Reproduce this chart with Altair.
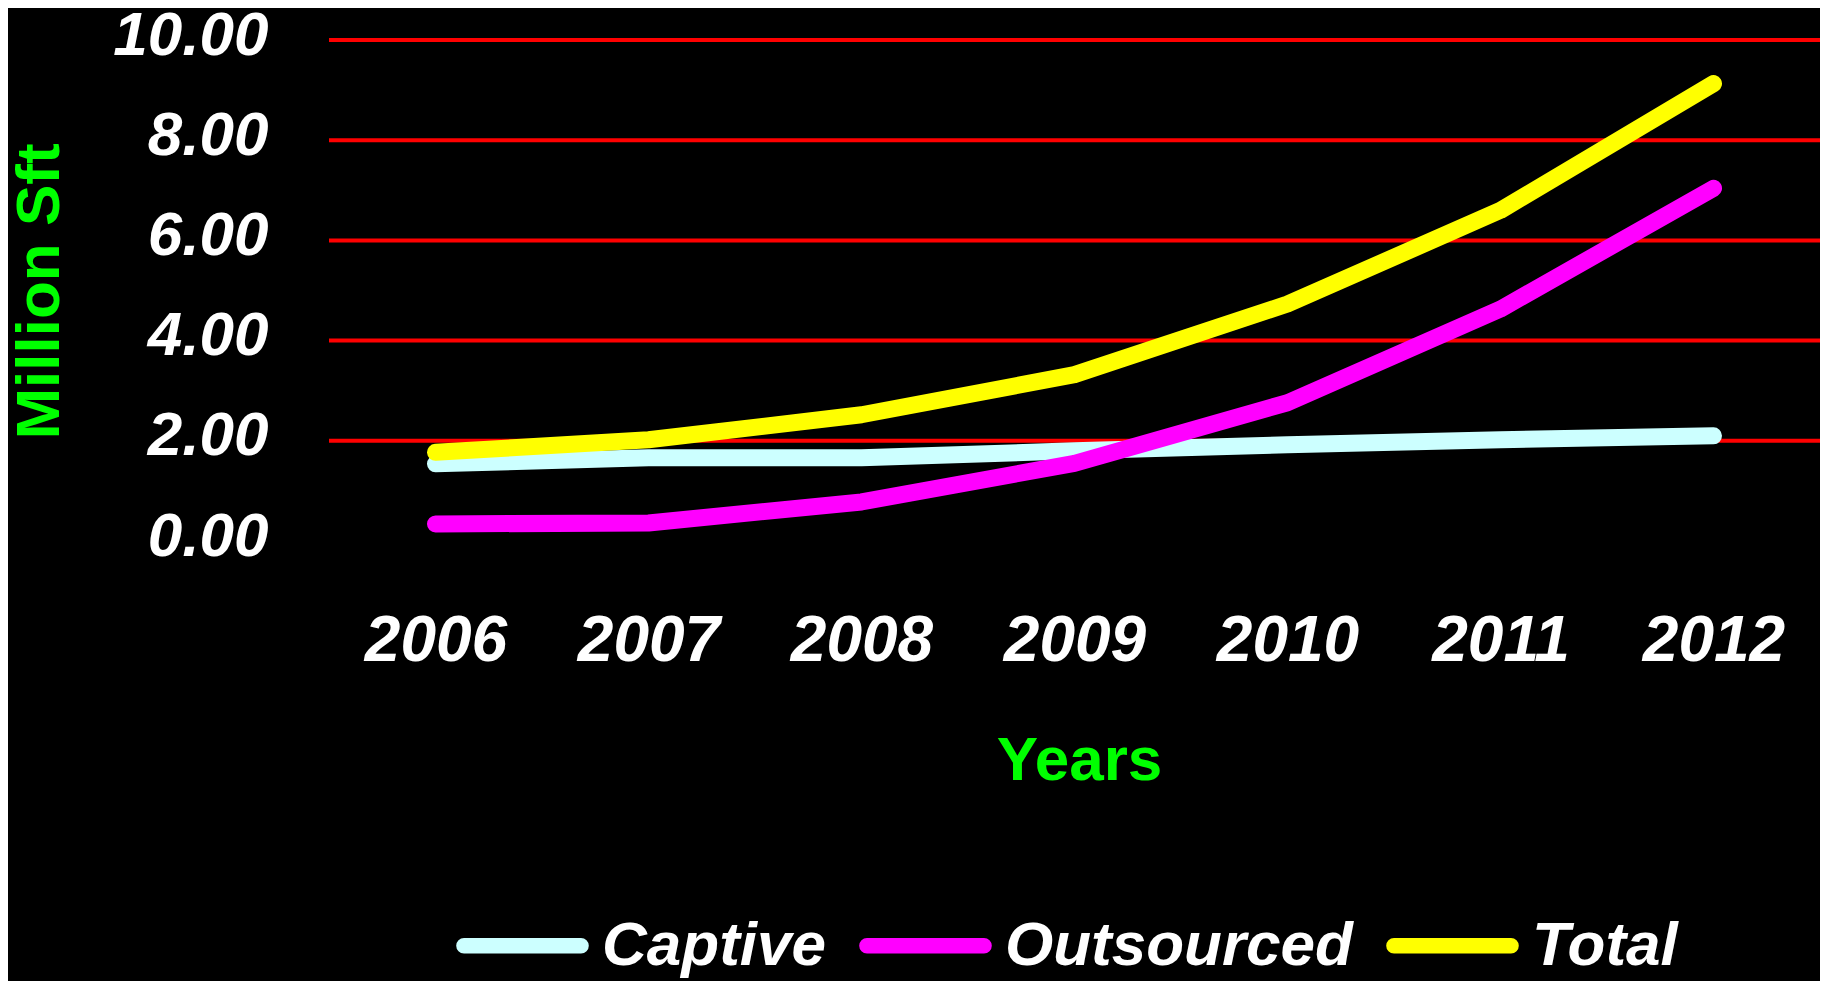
import altair as alt
import pandas as pd

years = ["2006", "2007", "2008", "2009", "2010", "2011", "2012"]
series_names = ["Captive", "Outsourced", "Total"]
captive = [1.54, 1.66, 1.66, 1.80, 1.92, 2.02, 2.10]
outsourced = [0.34, 0.36, 0.78, 1.55, 2.76, 4.63, 7.04]
total = [1.77, 2.02, 2.52, 3.32, 4.73, 6.60, 9.13]
y_ticks = [0, 2, 4, 6, 8, 10]
grid_values = [2, 4, 6, 8, 10]
colors = ["#CCFFFF", "#FF00FF", "#FFFF00"]

rows = []
for name, vals in zip(series_names, [captive, outsourced, total]):
    for yr, v in zip(years, vals):
        rows.append({"Year": yr, "Series": name, "Value": v})
df = pd.DataFrame(rows)
grid_df = pd.DataFrame({"Value": grid_values})

FONT = "Liberation Sans"

y_axis = alt.Axis(
    title="Million Sft",
    values=y_ticks,
    format=".2f",
    ticks=False,
    tickSize=0,
    domain=False,
    grid=False,
    labelPadding=61,
    labelOffset=-5,
    labelFont=FONT,
    labelFontSize=62,
    labelFontStyle="italic",
    labelFontWeight="bold",
    labelColor="white",
    labelBaseline="middle",
    titleFont=FONT,
    titleFontSize=62,
    titleFontWeight="bold",
    titleColor="#00FF00",
    titleX=-290,
    titleY=251,
    titleBaseline="middle",
    titleAlign="center",
)
y_scale = alt.Scale(domain=[0, 10])

grid = alt.Chart(grid_df).mark_rule(color="#FF0000", strokeWidth=4).encode(
    y=alt.Y("Value:Q", scale=y_scale, axis=y_axis)
)

capsule = "M-0.9,-0.02 L0.9,-0.02 A0.02,0.02 0 0 1 0.9,0.02 L-0.9,0.02 A0.02,0.02 0 0 1 -0.9,-0.02 Z"

lines = alt.Chart(df).mark_line(strokeWidth=17, strokeCap="round", strokeJoin="round").encode(
    x=alt.X(
        "Year:O",
        scale=alt.Scale(type="point", padding=0.5),
        axis=alt.Axis(
            title="Years",
            labelAngle=0,
            ticks=False,
            tickSize=0,
            domain=False,
            grid=False,
            labelPadding=68,
            labelFont=FONT,
            labelFontSize=64,
            labelFontStyle="italic",
            labelFontWeight="bold",
            labelColor="white",
            titleFont=FONT,
            titleFontSize=62,
            titleFontWeight="bold",
            titleColor="#00FF00",
            titleX=750,
            titleY=219,
            titleBaseline="middle",
            titleAlign="center",
        ),
    ),
    y=alt.Y("Value:Q", scale=y_scale, axis=y_axis),
    color=alt.Color(
        "Series:N",
        scale=alt.Scale(domain=series_names, range=colors),
        sort=series_names,
        legend=alt.Legend(
            title=None,
            orient="none",
            direction="horizontal",
            legendX=122,
            legendY=834,
            padding=0,
            symbolType=capsule,
            symbolSize=16900,
            symbolStrokeWidth=13,
            labelFont=FONT,
            labelFontSize=62,
            labelFontStyle="italic",
            labelFontWeight="bold",
            labelColor="white",
            labelOffset=8,
            columnPadding=13,
            labelLimit=1000,
        ),
    ),
    order=alt.Order("Year:O"),
)

chart = (
    alt.layer(grid, lines)
    .properties(
        width=1491,
        height=501,
        background="black",
        autosize=alt.AutoSizeParams(type="none"),
        padding={"left": 321, "top": 32, "right": 0, "bottom": 440},
    )
    .configure_view(stroke=None)
)

chart.save("out.html", embed_options={"renderer": "svg", "actions": False})
